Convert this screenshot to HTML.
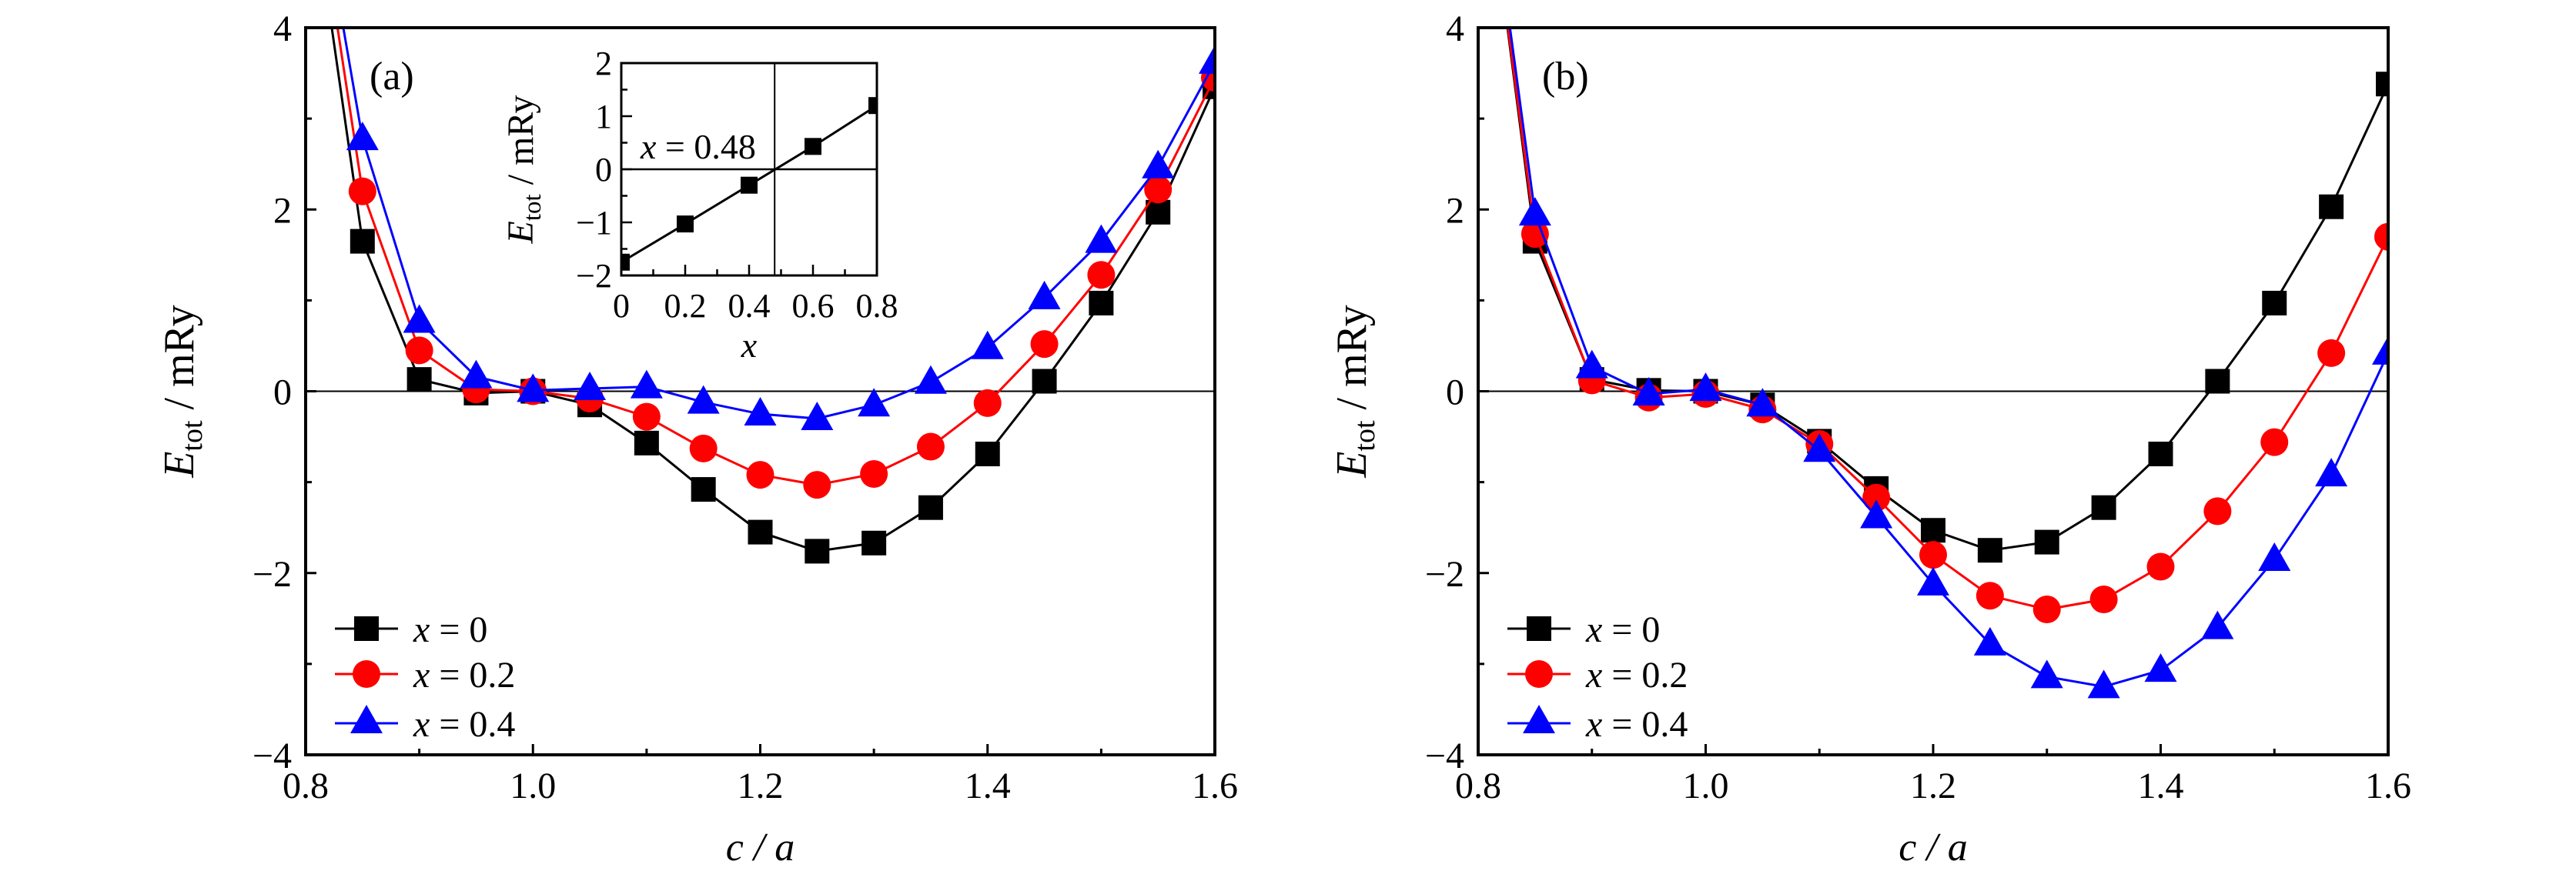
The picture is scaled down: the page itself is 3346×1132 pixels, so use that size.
<!DOCTYPE html>
<html><head><meta charset="utf-8"><style>
html,body{margin:0;padding:0;background:#fff;}
svg{display:block;}
text{font-family:"Liberation Serif",serif;fill:#000;}
</style></head><body>
<svg id="chart" width="3346" height="1132" xmlns="http://www.w3.org/2000/svg"></svg>
<script>
const cats=[0.80,0.85,0.90,0.95,1.00,1.05,1.10,1.15,1.20,1.25,1.30,1.35,1.40,1.45,1.50,1.55,1.60];
const aX0=[6.0,1.65,0.13,-0.02,0.0,-0.15,-0.57,-1.08,-1.55,-1.76,-1.67,-1.28,-0.69,0.11,0.97,1.97,3.35];
const aX02=[6.3,2.2,0.45,0.02,0.0,-0.08,-0.28,-0.63,-0.92,-1.03,-0.91,-0.61,-0.13,0.52,1.28,2.22,3.45];
const aX04=[6.4,2.78,0.77,0.16,0.01,0.03,0.05,-0.12,-0.25,-0.30,-0.15,0.10,0.48,1.03,1.65,2.47,3.62];
const bX0=[6.5,1.65,0.13,0.01,0.0,-0.15,-0.55,-1.07,-1.53,-1.75,-1.66,-1.28,-0.69,0.11,0.97,2.03,3.38];
const bX02=[6.5,1.73,0.12,-0.07,-0.03,-0.2,-0.58,-1.17,-1.8,-2.25,-2.4,-2.29,-1.93,-1.32,-0.56,0.42,1.7];
const bX04=[6.6,1.95,0.27,-0.03,0.02,-0.15,-0.65,-1.38,-2.12,-2.78,-3.14,-3.25,-3.07,-2.6,-1.85,-0.92,0.42];
const insetX=[0,0.2,0.4,0.6,0.8];
const insetY=[-1.75,-1.03,-0.3,0.43,1.2];
const insetCross=0.48;
const xTicks=["0.8","1.0","1.2","1.4","1.6"];
const yTicks=["−4","−2","0","2","4"];
const insetXTicks=["0","0.2","0.4","0.6","0.8"];
const insetYTicks=["−2","−1","0","1","2"];
const legendLabels=["x = 0","x = 0.2","x = 0.4"];

const NS="http://www.w3.org/2000/svg";
const svg=document.getElementById('chart');
function mk(tag,attrs,parent){const e=document.createElementNS(NS,tag);for(const k in attrs)e.setAttribute(k,attrs[k]);(parent||svg).appendChild(e);return e;}
const colors=["#000","#f00","#00f"];
const shapes=["square","circle","triangle"];

function marker(g,shape,cx,cy,col){
  let e;
  if(shape==="square")e=mk('rect',{x:cx-16,y:cy-16,width:32,height:32,fill:col},g);
  else if(shape==="circle")e=mk('circle',{cx:cx,cy:cy,r:18,fill:col},g);
  else e=mk('polygon',{points:`${cx},${cy-22} ${cx+21},${cy+15} ${cx-21},${cy+15}`,fill:col},g);
  return e;
}

function panel(id,L,R,T,B,series,letter){
  const g=mk('g',{});
  
  
  const sx=v=>L+(v-0.8)/0.8*(R-L);
  const sy=v=>T+(4-v)/8*(B-T);
  const clip=mk('clipPath',{id:'clip'+id},g);
  mk('rect',{x:L,y:T,width:R-L,height:B-T},clip);
  const z=mk('line',{x1:L,x2:R,y1:sy(0),y2:sy(0),stroke:'#000','stroke-width':2},g);
  
  
  for(let i=0;i<=8;i++){const v=0.8+i*0.1;const len=i%2?8:14;
    mk('line',{x1:sx(v),x2:sx(v),y1:B,y2:B-len,stroke:'#000','stroke-width':3},g);}
  for(let i=0;i<=8;i++){const v=-4+i;const len=i%2?8:14;
    mk('line',{x1:L,x2:L+len,y1:sy(v),y2:sy(v),stroke:'#000','stroke-width':3},g);}
  xTicks.forEach(t=>{const e=mk('text',{x:sx(parseFloat(t)),y:1037,'font-size':48,'text-anchor':'middle'},g);e.textContent=t;
    });
  yTicks.forEach(t=>{const v=parseFloat(t.replace('−','-'));const e=mk('text',{x:L-18,y:sy(v)+17,'font-size':48,'text-anchor':'end'},g);e.textContent=t;
    });
  const xt=mk('text',{x:(L+R)/2,y:1118,'font-size':52,'text-anchor':'middle','font-style':'italic'},g);
  xt.innerHTML='c / a';
  
  const yt=mk('text',{x:0,y:0,'font-size':56,'text-anchor':'middle',transform:`translate(${L-146},${(T+B)/2}) rotate(-90)`},g);
  yt.innerHTML='<tspan font-style="italic">E</tspan><tspan font-size="38" dy="11">tot</tspan><tspan dy="-11"> / mRy</tspan>';
  
  const lt=mk('text',{x:L+83,y:116,'font-size':52},g);lt.textContent='('+letter+')';
  
  const sg=mk('g',{'clip-path':`url(#clip${id})`},g);
  series.forEach((vals,si)=>{
    const pts=cats.map((c,i)=>sx(c)+','+sy(vals[i])).join(' ');
    const pl=mk('polyline',{points:pts,fill:'none',stroke:colors[si],'stroke-width':3},sg);
    
    cats.forEach((c,i)=>{if(i===0)return;const m=marker(sg,shapes[si],sx(c),sy(vals[i]),colors[si]);
      });
  });
  const fr=mk('rect',{x:L,y:T,width:R-L,height:B-T,fill:'none',stroke:'#000','stroke-width':4},g);
  
  const ly=[817,876,940];
  legendLabels.forEach((lab,i)=>{
    const lg=mk('g',{},g);
    
    mk('line',{x1:L+38,x2:L+120,y1:ly[i],y2:ly[i],stroke:colors[i],'stroke-width':3},lg);
    marker(lg,shapes[i],L+79,ly[i]+(i===2?-2:0),colors[i]);
    const t=mk('text',{x:L+140,y:ly[i]+17,'font-size':48},lg);
    const parts=lab.split(' = ');
    t.innerHTML='<tspan font-style="italic">x</tspan> = '+parts[1];
  });
  return {g,sx,sy};
}

panel('a',397,1578,36,981,[aX0,aX02,aX04],'a');
panel('b',1920,3102,36,981,[bX0,bX02,bX04],'b');

(function(){
  const L=807,R=1139,T=82,B=358;
  const g=mk('g',{});
  
  const sx=v=>L+v/0.8*(R-L);
  const sy=v=>T+(2-v)/4*(B-T);
  mk('rect',{x:L,y:T,width:R-L,height:B-T,fill:'#fff'},g);
  const clip=mk('clipPath',{id:'clipInset'},g);
  mk('rect',{x:L,y:T,width:R-L,height:B-T},clip);
  mk('line',{x1:L,x2:R,y1:sy(0),y2:sy(0),stroke:'#000','stroke-width':2.5},g);
  const vl=mk('line',{x1:sx(insetCross),x2:sx(insetCross),y1:T,y2:B,stroke:'#000','stroke-width':2},g);
  
  for(let i=0;i<=8;i++){const v=i*0.1;const len=i%2?8:14;
    mk('line',{x1:sx(v),x2:sx(v),y1:B,y2:B-len,stroke:'#000','stroke-width':2.5},g);}
  for(let i=0;i<=8;i++){const v=-2+i*0.5;const len=i%2?8:14;
    mk('line',{x1:L,x2:L+len,y1:sy(v),y2:sy(v),stroke:'#000','stroke-width':2.5},g);}
  insetXTicks.forEach(t=>{const e=mk('text',{x:sx(parseFloat(t)),y:412,'font-size':44,'text-anchor':'middle'},g);e.textContent=t;
    });
  insetYTicks.forEach(t=>{const v=parseFloat(t.replace('−','-'));const e=mk('text',{x:L-12,y:sy(v)+15,'font-size':44,'text-anchor':'end'},g);e.textContent=t;
    });
  const sg=mk('g',{'clip-path':'url(#clipInset)'},g);
  mk('polyline',{points:insetX.map((x,i)=>sx(x)+','+sy(insetY[i])).join(' '),fill:'none',stroke:'#000','stroke-width':3},sg);
  insetX.forEach((x,i)=>{const m=mk('rect',{x:sx(x)-11,y:sy(insetY[i])-11,width:22,height:22,fill:'#000'},sg);
    });
  mk('rect',{x:L,y:T,width:R-L,height:B-T,fill:'none',stroke:'#000','stroke-width':3},g);
  const ann=mk('text',{x:L+25,y:sy(0)-14,'font-size':46},g);
  ann.innerHTML='<tspan font-style="italic">x</tspan> = '+insetCross.toFixed(2);
  
  const xt=mk('text',{x:(L+R)/2,y:464,'font-size':46,'text-anchor':'middle','font-style':'italic'},g);xt.textContent='x';
  
  const yt=mk('text',{x:0,y:0,'font-size':48,'text-anchor':'middle',transform:`translate(${L-115},${(T+B)/2}) rotate(-90)`},g);
  yt.innerHTML='<tspan font-style="italic">E</tspan><tspan font-size="33" dy="10">tot</tspan><tspan dy="-10"> / mRy</tspan>';
  
})();
</script>
</body></html>
